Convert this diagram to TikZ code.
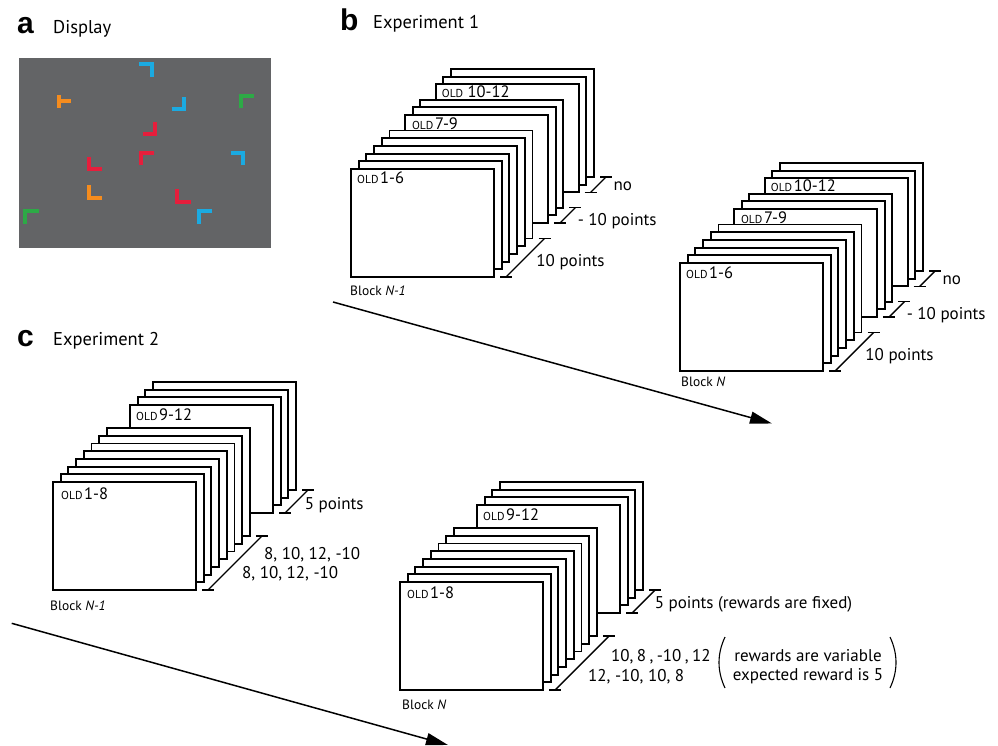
\documentclass[tikz,border=0pt]{standalone}
\usepackage{fontspec}
\setmainfont{PT Sans}
\newfontfamily\lblfont{Liberation Sans}
\usetikzlibrary{arrows.meta,calc}

\definecolor{dispgray}{RGB}{99,100,102}
\definecolor{mcyan}{RGB}{27,170,225}
\definecolor{morange}{RGB}{245,140,30}
\definecolor{mgreen}{RGB}{45,170,70}
\definecolor{mred}{RGB}{230,30,60}

\tikzset{
  card/.style={draw=black, fill=white, line width=1.9pt, line join=miter},
  bracketline/.style={line width=1.4pt},
  lmark/.style={line width=4pt, line cap=butt, line join=miter},
  txt/.style={inner sep=0pt, anchor=base west, font=\fontsize{17}{19}\selectfont},
  ttl/.style={inner sep=0pt, anchor=base west, font=\fontsize{18.5}{20}\selectfont},
  letter/.style={inner sep=0pt, anchor=base west, font=\lblfont\bfseries\fontsize{30}{32}\selectfont},
  blk/.style={inner sep=0pt, anchor=base west, font=\fontsize{13.5}{15}\selectfont},
  oldlbl/.style={inner sep=0pt, anchor=base west},
  timearrow/.style={line width=1.5pt, -{Triangle[length=22pt,width=12pt]}},
  paren/.style={line width=1.1pt},
}

% #1 x0, #2 y0 (front card top-left), #3 indices (back to front)
\newcommand\drawcardstack[3]{%
  \foreach \k in {#3} {
    \draw[card] ({#1+\k*7.7},{#2-\k*7.7}) rectangle +(143,108);
  }%
}
% #1 name, #2 x0, #3 y0, #4 first index, #5 last index
\newcommand\stackbracket[5]{%
  \coordinate (#1lo) at ({#2+155+#4*7.7},{#3+108-#4*7.7});
  \coordinate (#1hi) at ({#2+155+#5*7.7},{#3+108-#5*7.7});
  \coordinate (#1mid) at ($(#1lo)!0.5!(#1hi)$);
  \draw[bracketline] (#1lo) -- (#1hi);
  \draw[bracketline] ($(#1lo)+(-6,0)$) -- ($(#1lo)+(6,0)$);
  \draw[bracketline] ($(#1hi)+(-6,0)$) -- ($(#1hi)+(6,0)$);
}
\newcommand\oldtext[1]{{\fontsize{11.5}{12}\selectfont OLD}\,{\fontsize{16.5}{18}\selectfont #1}}
\newcommand\tightnum[1]{{\spaceskip=0.2em plus 0.05em\relax #1}}

\begin{document}
\begin{tikzpicture}[x=1pt,y=-1pt]
\useasboundingbox (0,0) rectangle (998,746);

% ---------------- panel a ----------------
\node[letter] (la) at (17,33.5) {a};
\node[ttl] (ta) at (53,34) {Display};
\fill[dispgray] (19,58) rectangle (271,248);
\draw[lmark, mcyan]   (139,64.5) -- (152,64.5) -- (152,77.5);
\draw[lmark, morange] (58.7,95) -- (58.7,108);
\draw[lmark, morange] (58.7,101.5) -- (70.7,101.5);
\draw[lmark, mcyan]   (171.7,109.3) -- (183.7,109.3) -- (183.7,96.7);
\draw[lmark, mgreen]  (254,96.3) -- (241.3,96.3) -- (241.3,108.3);
\draw[lmark, mred]    (142.7,133.7) -- (155,133.7) -- (155,121.7);
\draw[lmark, mred]    (154,152.7) -- (140.7,152.7) -- (140.7,165);
\draw[lmark, mcyan]   (230.7,152.7) -- (243.3,152.7) -- (243.3,165);
\draw[lmark, mred]    (89,156.7) -- (89,169.3) -- (101.7,169.3);
\draw[lmark, morange] (89,185) -- (89,198) -- (101.7,198);
\draw[lmark, mred]    (177.3,189.3) -- (177.3,202) -- (190.7,202);
\draw[lmark, mgreen]  (39,211) -- (25.3,211) -- (25.3,224);
\draw[lmark, mcyan]   (212.3,211) -- (199.3,211) -- (199.3,224);

% ---------------- panel b ----------------
\node[letter] (lb) at (340,30.5) {b};
\node[ttl] (tb) at (373,29) {Experiment 1};

% stack 1 (Block N-1)
\drawcardstack{351}{169}{13,12,11,9,8,7,5,4,3,2,1,0}
\node[oldlbl] (b1o1) at (357,184) {\oldtext{1-6}};
\node[oldlbl] (b1o2) at ({351+7*7.7+7},{169-7*7.7+14}) {\oldtext{7-9}};
\node[oldlbl] (b1o3) at ({351+11*7.7+6},{169-11*7.7+13}) {\oldtext{\,10-12}};
\stackbracket{b1a}{351}{169}{0}{5}
\stackbracket{b1b}{351}{169}{7}{9}
\stackbracket{b1c}{351}{169}{11}{13}
\node[txt] (b1t1) at ($(b1amid)+(11,9)$) {10 points};
\node[txt] (b1t2) at ($(b1bmid)+(10,10)$) {- 10 points};
\node[txt] (b1t3) at ($(b1cmid)+(15,6)$) {no};
\node[blk] (b1blk) at (350,295) {Block \textit{N-1}};

% stack 2 (Block N)
\drawcardstack{680}{263}{13,12,11,9,8,7,5,4,3,2,1,0}
\node[oldlbl] (b2o1) at (686,278) {\oldtext{1-6}};
\node[oldlbl] (b2o2) at ({680+7*7.7+7},{263-7*7.7+14}) {\oldtext{7-9}};
\node[oldlbl] (b2o3) at ({680+11*7.7+6},{263-11*7.7+13}) {\oldtext{10-12}};
\stackbracket{b2a}{680}{263}{0}{5}
\stackbracket{b2b}{680}{263}{7}{9}
\stackbracket{b2c}{680}{263}{11}{13}
\node[txt] (b2t1) at ($(b2amid)+(11,9)$) {10 points};
\node[txt] (b2t2) at ($(b2bmid)+(10,10)$) {- 10 points};
\node[txt] (b2t3) at ($(b2cmid)+(15,6)$) {no};
\node[blk] (b2blk) at (681,386) {Block \textit{N}};

\coordinate (arrbs) at (333,302);
\coordinate (arrbe) at (772,423.5);
\draw[timearrow] (arrbs) -- (arrbe);

% ---------------- panel c ----------------
\node[letter] (lc) at (17,346.5) {c};
\node[ttl] (tc) at (53,345) {Experiment 2};

% stack 1 (Block N-1)
\drawcardstack{53}{482}{13,12,11,10,7,6,5,4,3,2,1,0}
\node[oldlbl] (c1o1) at (61,499) {\oldtext{1-8}};
\node[oldlbl] (c1o2) at ({53+10*7.7+6},{482-10*7.7+15}) {\oldtext{9-12}};
\stackbracket{c1a}{53}{482}{0}{7}
\stackbracket{c1b}{53}{482}{10}{13}
\node[txt] (c1t1) at ($(c1bmid)+(8,8.5)$) {5 points};
\node[txt] (c1t2) at ($(c1amid)+(29,-4)$) {8, 10, 12, -10};
\node[txt] (c1t3) at ($(c1amid)+(7,15.5)$) {8, 10, 12, -10};
\node[blk] (c1blk) at (50,610) {Block \textit{N-1}};

% stack 2 (Block N)
\drawcardstack{400}{582}{13,12,11,10,7,6,5,4,3,2,1,0}
\node[oldlbl] (c2o1) at (407,598) {\oldtext{1-8}};
\node[oldlbl] (c2o2) at ({400+10*7.7+6},{582-10*7.7+15}) {\oldtext{9-12}};
\stackbracket{c2a}{400}{582}{0}{7}
\stackbracket{c2b}{400}{582}{10}{13}
\node[txt] (c2t1) at ($(c2bmid)+(11,7.5)$) {5 points (rewards are fixed)};
\node[txt] (c2t2) at ($(c2amid)+(29,-1.5)$) {\tightnum{10, 8 , -10 , 12}};
\node[txt] (c2t3) at ($(c2amid)+(6,18.5)$) {12, -10, 10, 8};
\node[blk] (c2blk) at (402,709) {Block \textit{N}};

\node[txt, anchor=base] (rv) at (808,661.5) {rewards are variable};
\node[txt, anchor=base] (er) at (808,680) {expected reward is 5};
\coordinate (pl1) at (725,637);
\coordinate (pl2) at (725,688);
\coordinate (pr1) at (890,637);
\coordinate (pr2) at (890,688);
\draw[paren] (pl1) .. controls (717,654) and (717,671) .. (pl2);
\draw[paren] (pr1) .. controls (898,654) and (898,671) .. (pr2);

\coordinate (arrcs) at (11.7,623.3);
\coordinate (arrce) at (448,745);
\draw[timearrow] (arrcs) -- (arrce);
\end{tikzpicture}
\end{document}
